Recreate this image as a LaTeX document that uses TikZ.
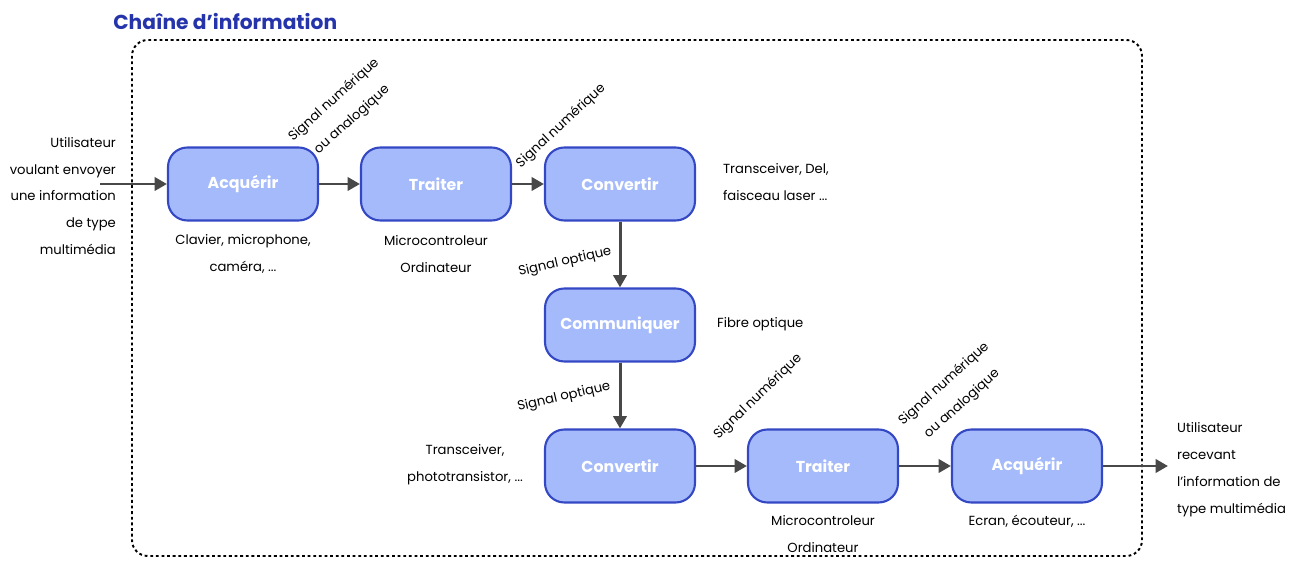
\documentclass[tikz,border=0pt]{standalone}
\usepackage{fontspec}
\setmainfont{Poppins}
\usepackage{tikz}
\usetikzlibrary{arrows.meta}
\definecolor{boxfill}{RGB}{164,186,250}
\definecolor{boxline}{RGB}{52,72,196}
\definecolor{titleblue}{RGB}{38,52,172}
\definecolor{arrowgray}{RGB}{72,72,72}
\tikzset{
  bloc/.style={draw=boxline, line width=1.2pt, fill=boxfill, rounded corners=11pt,
    minimum width=3cm, minimum height=1.46cm, text=white,
    font=\fontsize{9}{11}\selectfont\bfseries},
  legende/.style={font=\fontsize{7.5}{15.3}\selectfont, align=center, inner sep=1pt},
  fleche/.style={draw=arrowgray, line width=1.7pt, ->},
}

\begin{document}
\begin{tikzpicture}[x=0.02cm, y=-0.02cm, >={Triangle[length=7pt,width=7.5pt]}]
\useasboundingbox (0,0) rectangle (1295,563);
% cadre de la chaine
\path [draw, line width=1.1pt, dash pattern=on 1.6pt off 1.6pt, rounded corners=9pt] (132,40) rectangle (1142,556);
\path (113,30) node [anchor=base west, inner sep=0pt, text=titleblue, font=\fontsize{11.5}{13}\selectfont\bfseries] (titre) {Chaîne d’information};
% blocs
\node [bloc] (acq1) at (243,184) {Acquérir};
\node [bloc] (tra1) at (436,184) {Traiter};
\node [bloc] (conv1) at (620,184) {Convertir};
\node [bloc] (comm) at (620,325) {Communiquer};
\node [bloc] (conv2) at (620,466) {Convertir};
\node [bloc] (tra2) at (823,466) {Traiter};
\node [bloc] (acq2) at (1027,466) {Acquérir};
% utilisateurs
\node [legende, align=right, anchor=east] (emetteur) at (118,196) {Utilisateur\\voulant envoyer\\une information\\de type\\multimédia};
\node [legende, align=left, anchor=west] (recepteur) at (1175,470) {Utilisateur\\recevant\\l’information de\\type multimédia};
\coordinate (depart) at (100,184);
\coordinate (arrivee) at (1168,466);
% composants
\node [legende] (ex1) at (243,254) {Clavier, microphone,\\caméra, ...};
\node [legende] (ex2) at (436,254) {Microcontroleur\\Ordinateur};
\node [legende, align=left, anchor=west] (ex3) at (721,182) {Transceiver, Del,\\faisceau laser ...};
\node [legende, anchor=west] (ex4) at (715,324) {Fibre optique};
\node [legende] (ex5) at (465,465) {Transceiver,\\phototransistor, ...};
\node [legende] (ex6) at (823,534) {Microcontroleur\\Ordinateur};
\node [legende] (ex7) at (1027,521) {Ecran, écouteur, ...};
% signaux
\node [legende, rotate=42] (sig1) at (343,110) {Signal numérique\\ou analogique};
\node [legende, rotate=43] (sig2) at (561,126) {Signal numérique};
\node [legende, rotate=13] (sig3) at (565,262) {Signal optique};
\node [legende, rotate=13] (sig4) at (564,397) {Signal optique};
\node [legende, rotate=44] (sig5) at (758,397) {Signal numérique};
\node [legende, rotate=42] (sig6) at (953,394) {Signal numérique\\ou analogique};
% fleches
\path [fleche] (depart) -- (acq1);
\path [fleche] (acq1) -- (tra1);
\path [fleche] (tra1) -- (conv1);
\path [fleche] (conv1) -- (comm);
\path [fleche] (comm) -- (conv2);
\path [fleche] (conv2) -- (tra2);
\path [fleche] (tra2) -- (acq2);
\path [fleche] (acq2) -- (arrivee);
\end{tikzpicture}
\end{document}
